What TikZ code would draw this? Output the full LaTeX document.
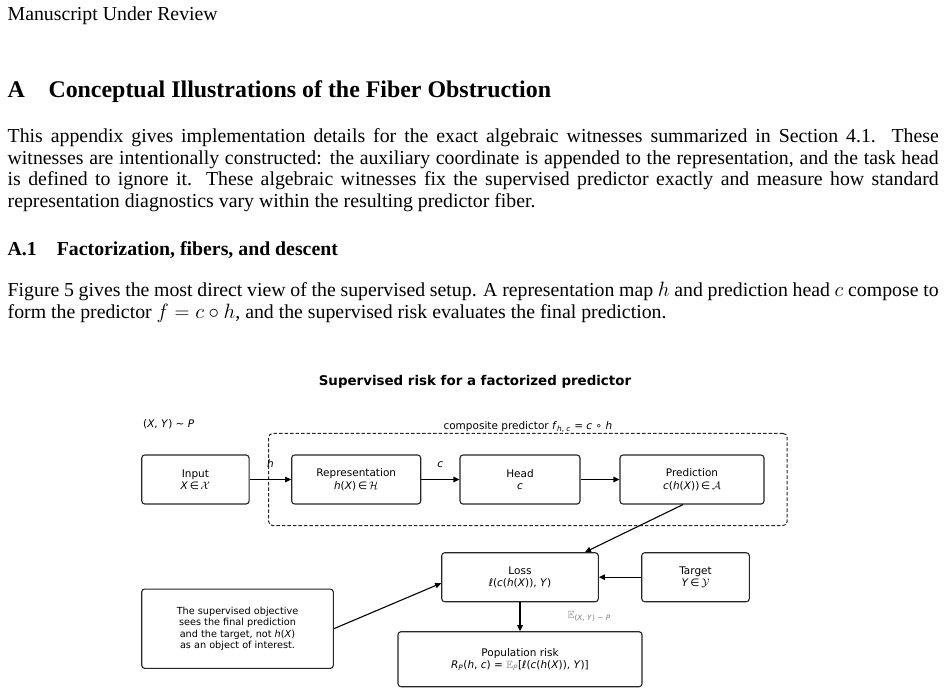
\documentclass[tikz,border=0pt]{standalone}
\usepackage{amssymb}
\usepackage{fontspec}
\setmainfont{Liberation Serif}
\setsansfont{DejaVu Sans}
\usetikzlibrary{arrows.meta,fit}
\definecolor{edge}{HTML}{262626}
\definecolor{expc}{HTML}{808080}

\newcommand{\bodyfont}{\fontsize{19.8}{21.6}\selectfont}
\newcommand{\figfont}{\sffamily\fontsize{10.5}{12.5}\selectfont}
\newcommand{\mvar}[1]{\textit{#1}}
\newcommand{\jline}[1]{\makebox[931pt][s]{#1}}

\begin{document}
\begin{tikzpicture}[x=1pt,y=-1pt,
    txt/.style={anchor=base west,inner sep=0,font=\bodyfont},
    sectxt/.style={anchor=base west,inner sep=0,font=\fontsize{23.9}{26}\selectfont\bfseries},
    subtxt/.style={anchor=base west,inner sep=0,font=\bodyfont\bfseries},
    blk/.style={draw=edge,line width=1.1pt,rounded corners=3pt,fill=white,align=center,font=\figfont,inner sep=0},
    arr/.style={draw=black,line width=1.1pt,-{Triangle[length=6pt,width=5.5pt]}},
    lbl/.style={font=\figfont,inner sep=0}]
  \fill[white] (0,0) rectangle (949,694);
  \useasboundingbox (0,0) rectangle (949,694);

  % page text
  \path
  (7.5,20) node[txt] (hdr) {Manuscript Under Review}
  (7.5,97.7) node[sectxt] (secnum) {A}
  (48.3,97.7) node[sectxt] (sec) {Conceptual Illustrations of the Fiber Obstruction}
  ;
  \path
  (7.5,142.7) node[txt] (p1a) {\jline{This appendix gives implementation details for the exact algebraic witnesses summarized in Section 4.1. These}}
  (7.5,164.2) node[txt] (p1b) {\jline{witnesses are intentionally constructed: the auxiliary coordinate is appended to the representation, and the task head}}
  (7.5,185.8) node[txt] (p1c) {\jline{is defined to ignore it. These algebraic witnesses fix the supervised predictor exactly and measure how standard}}
  (7.5,207.4) node[txt] (p1d) {representation diagnostics vary within the resulting predictor fiber.}
  ;
  \path
  (7.5,255) node[subtxt] (subnum) {A.1}
  (56.7,255) node[subtxt] (sub) {Factorization, fibers, and descent}
  (7.5,296.7) node[txt] (p2a) {\jline{Figure 5 gives the most direct view of the supervised setup. A representation map $h$ and prediction head $c$ compose to}}
  (7.5,318.3) node[txt] (p2b) {form the predictor $f = c \circ h$, and the supervised risk evaluates the final prediction.}
  ;

  % figure
  \node[anchor=base,inner sep=0,font=\sffamily\bfseries\fontsize{13.4}{15}\selectfont] (ttl) at (475,385) {Supervised risk for a factorized predictor};
  \node[lbl,anchor=base west] (dist) at (143,427) {(\mvar{X}, \mvar{Y}) ∼ \mvar{P}};

  \path
  (195.4,479.5) node[blk,minimum width=107.3pt,minimum height=49pt] (in) {Input\\\mvar{X}\,∈\,$\mathcal{X}$}
  (356.2,479.5) node[blk,minimum width=129pt,minimum height=49pt] (rep) {Representation\\\mvar{h}(\mvar{X})\,∈\,$\mathcal{H}$}
  (520,479.5) node[blk,minimum width=120pt,minimum height=49pt] (head) {Head\\\mvar{c}}
  (692,479.5) node[blk,minimum width=144pt,minimum height=49pt] (pred) {Prediction\\\mvar{c}(\mvar{h}(\mvar{X}))\,∈\,$\mathcal{A}$}
  (520,577.2) node[blk,minimum width=156.6pt,minimum height=49pt] (loss) {Loss\\\mvar{ℓ}(\mvar{c}(\mvar{h}(\mvar{X})), \mvar{Y})}
  (695.5,577.2) node[blk,minimum width=107.6pt,minimum height=49pt] (tgt) {Target\\\mvar{Y}\,∈\,$\mathcal{Y}$}
  (520,659.2) node[blk,minimum width=244pt,minimum height=55pt] (pop) {Population risk\\\mvar{R}\textsubscript{\mvar{P}}(\mvar{h}, \mvar{c}) = \textcolor{expc}{$\mathbb{E}$\textsubscript{\mvar{P}}}[\mvar{ℓ}(\mvar{c}(\mvar{h}(\mvar{X})), \mvar{Y})]}
  (237.5,628.7) node[blk,minimum width=191.6pt,minimum height=79.3pt,font=\sffamily\fontsize{9.7}{11.3}\selectfont] (note) {The supervised objective\\sees the final prediction\\and the target, not \mvar{h}(\mvar{X})\\as an object of interest.}
  ;

  \node[draw=edge,line width=1pt,dash pattern=on 3.5pt off 2pt,rounded corners=4pt,
    fit=(rep)(pred),inner xsep=22.5pt,inner ysep=21pt] (comp) {};
  \node[lbl,anchor=base] (complbl) at ([yshift=3pt]comp.north) {composite predictor \mvar{f}\textsubscript{\mvar{h}, \mvar{c}} = \mvar{c} ∘ \mvar{h}};

  \draw[arr] (in.east) -- node[lbl,above=11pt] (hlbl) {\mvar{h}} (rep.west);
  \draw[arr] (rep.east) -- node[lbl,above=11pt] (clbl) {\mvar{c}} (head.west);
  \draw[arr] (head.east) -- (pred.west);
  \draw[arr] ([xshift=-9pt]pred.south) -- ([xshift=65pt]loss.north);
  \draw[arr] (tgt.west) -- (loss.east);
  \draw[arr] (note.east) -- ([yshift=-6pt]loss.west);
  \draw[arr] (loss.south) -- node[lbl,anchor=west,xshift=47pt,text=expc] (elbl) {$\mathbb{E}$\textsubscript{(\mvar{X}, \mvar{Y}) ∼ \mvar{P}}} (pop.north);
\end{tikzpicture}
\end{document}
